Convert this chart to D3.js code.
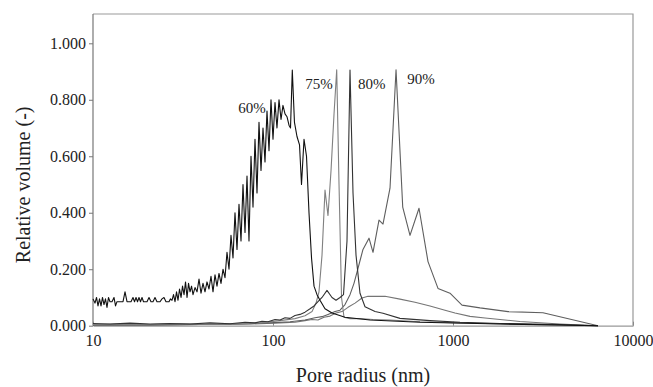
<!DOCTYPE html>
<html>
<head>
<meta charset="utf-8">
<title>Pore size distribution</title>
<style>
  body { margin: 0; background: #fff; }
  text { font-family: "Liberation Serif", "Times New Roman", serif; fill: #222; }
</style>
</head>
<body>
<script src="https://d3js.org/d3.v7.min.js"></script>
<script>
// ---- data (pore radius in nm, relative volume) ----
var radius60 = [10.0, 10.26, 10.46, 10.66, 10.87, 11.08, 11.29, 11.51, 11.73, 11.96, 12.19, 12.43, 12.75, 13.08, 13.34, 13.59,
  14.31, 14.68, 15.06, 15.45, 16.26, 16.68, 17.01, 17.34, 17.67, 18.01, 18.36, 18.72, 19.08, 19.95, 20.47, 21.0, 21.54, 22.1,
  22.67, 23.57, 24.17, 24.8, 25.44, 26.43, 26.95, 27.47, 28.01, 28.55, 29.11, 29.67, 30.25, 30.84, 31.43, 32.04, 32.66, 33.3,
  33.94, 34.6, 35.27, 35.94, 36.88, 37.83, 38.81, 39.81, 40.84, 41.9, 42.99, 44.1, 45.24, 46.42, 47.62, 48.85, 50.12, 51.42,
  52.75, 54.12, 55.52, 56.96, 58.43, 59.95, 61.5, 63.1, 64.73, 66.41, 68.13, 69.9, 71.71, 73.56, 75.47, 77.43, 79.43, 81.49,
  83.6, 85.77, 87.99, 90.27, 92.61, 95.01, 97.47, 100.0, 102.6, 105.2, 108.0, 110.8, 113.6, 116.6, 119.6, 122.7, 125.1, 128.0,
  131.6, 135.9, 140.4, 144.0, 148.7, 153.5, 158.5, 163.7, 169.0, 175.6, 182.4, 194.5, 212.7, 251.2, 345.8, 655.7, 1824, 6390];
var volume60 = [0.095, 0.08, 0.1, 0.07, 0.095, 0.07, 0.1, 0.075, 0.095, 0.065, 0.1, 0.085, 0.085, 0.1, 0.07, 0.085,
  0.085, 0.085, 0.12, 0.085, 0.085, 0.1, 0.085, 0.1, 0.085, 0.1, 0.085, 0.1, 0.085, 0.085, 0.1, 0.085, 0.085, 0.1,
  0.085, 0.085, 0.095, 0.1, 0.085, 0.085, 0.095, 0.09, 0.11, 0.085, 0.12, 0.09, 0.13, 0.1, 0.14, 0.11, 0.155, 0.1,
  0.15, 0.12, 0.14, 0.11, 0.135, 0.12, 0.165, 0.115, 0.15, 0.12, 0.155, 0.13, 0.175, 0.12, 0.18, 0.14, 0.185, 0.15,
  0.2, 0.17, 0.26, 0.2, 0.32, 0.24, 0.4, 0.27, 0.43, 0.3, 0.5, 0.33, 0.53, 0.3, 0.6, 0.42, 0.66, 0.47,
  0.72, 0.55, 0.7, 0.58, 0.76, 0.62, 0.8, 0.66, 0.79, 0.7, 0.8, 0.73, 0.78, 0.75, 0.74, 0.71, 0.7, 0.905,
  0.72, 0.67, 0.64, 0.5, 0.66, 0.6, 0.4, 0.24, 0.14, 0.11, 0.09, 0.06, 0.045, 0.03, 0.02, 0.012, 0.006, 0];

var radius75 = [10.0, 14.13, 20.74, 30.43, 44.67, 65.57, 84.7, 109.4, 132.5, 150.6, 164.8, 173.4, 180.1, 187.2, 194.5,
  202.1, 210.1, 218.3, 225.9, 232.7, 240.3, 248.0, 267.8, 304.3, 359.4, 446.7, 655.7, 1094, 2356, 6390];
var volume75 = [0.004, 0.006, 0.004, 0.007, 0.005, 0.008, 0.01, 0.018, 0.025, 0.035, 0.05, 0.08, 0.12, 0.25, 0.48,
  0.39, 0.55, 0.75, 0.906, 0.5, 0.1, 0.03, 0.025, 0.025, 0.022, 0.02, 0.014, 0.01, 0.005, 0];

var radius80 = [10.0, 12.43, 16.05, 20.74, 26.78, 34.58, 44.67, 57.69, 69.9, 79.43, 86.88, 93.8, 102.6, 109.4, 116.6,
  124.3, 132.5, 141.3, 150.6, 160.6, 169.0, 177.8, 187.2, 199.5, 212.7, 223.9, 235.7, 246.4, 257.7, 267.8, 278.3,
  289.2, 304.3, 324.5, 368.8, 408.4, 507.6, 745, 1094, 1824, 3930, 6390];
var volume80 = [0.008, 0.006, 0.009, 0.006, 0.008, 0.006, 0.01, 0.007, 0.012, 0.01, 0.016, 0.014, 0.022, 0.02, 0.028,
  0.026, 0.036, 0.04, 0.048, 0.06, 0.07, 0.085, 0.1, 0.125, 0.1, 0.09, 0.1, 0.11, 0.3, 0.905, 0.47,
  0.25, 0.115, 0.067, 0.05, 0.044, 0.026, 0.018, 0.012, 0.008, 0.004, 0];

var radius90 = [10.0, 20.74, 39.3, 65.57, 96.2, 124.3, 150.6, 171.1, 187.2, 202.1, 221.1, 235.7, 251.2, 267.8, 281.8,
  292.9, 304.3, 316.2, 341.5, 359.4, 388.0, 408.4, 446.7, 482.5, 525.6, 576.9, 647.4, 726.3, 825.4, 962, 1122, 1413,
  2021, 3162, 6390];
var volume90 = [0.002, 0.003, 0.004, 0.006, 0.01, 0.014, 0.02, 0.028, 0.032, 0.04, 0.05, 0.055, 0.075, 0.11, 0.15,
  0.19, 0.23, 0.27, 0.31, 0.26, 0.374, 0.36, 0.487, 0.906, 0.42, 0.32, 0.416, 0.227, 0.132, 0.115, 0.073, 0.063,
  0.05, 0.046, 0];

// broad, unlabelled curve
var radiusBroad = [10.0, 20.74, 39.3, 74.5, 109.4, 132.5, 150.6, 164.8, 177.8, 192.0, 207.4, 223.9, 241.8, 261.0, 285.5,
  312.2, 337.1, 419.0, 507.6, 615, 745, 902.6, 1026, 1243, 1506, 2356, 3930, 6390];
var volumeBroad = [0.003, 0.002, 0.004, 0.006, 0.01, 0.012, 0.018, 0.022, 0.02, 0.03, 0.034, 0.045, 0.05, 0.065, 0.08,
  0.098, 0.104, 0.104, 0.094, 0.083, 0.07, 0.055, 0.045, 0.033, 0.027, 0.015, 0.006, 0];

var xTicks = [10, 100, 1000, 10000];
var yTicks = [0, 0.2, 0.4, 0.6, 0.8, 1.0];
var seriesLabels = ["60%", "75%", "80%", "90%", ""];

// ---- layout ----
const width = 653, height = 387;
const plotLeft = 93, plotRight = 633, plotTop = 14, plotBottom = 325.7;

const svg = d3.select("body").append("svg")
  .attr("width", width)
  .attr("height", height);

const x = d3.scaleLog().domain([10, 10000]).range([plotLeft, plotRight]);
const y = d3.scaleLinear().domain([0, 1.1]).range([plotBottom, plotBottom - 1.1 * 282.4]);

// frame (top + right)
svg.append("path")
  .attr("d", "M" + plotLeft + "," + plotTop + "H" + plotRight + "V" + plotBottom)
  .attr("fill", "none")
  .attr("stroke", "#999")
  .attr("stroke-width", 1.2);

// y axis
const yAxis = svg.append("g")
  .attr("transform", "translate(" + plotLeft + ",0)")
  .call(d3.axisLeft(y).tickValues(yTicks).tickFormat(d3.format(".3f")).tickSize(4).tickPadding(3));
yAxis.select(".domain").attr("stroke", "#777").attr("stroke-width", 1.2)
  .attr("d", "M0," + plotBottom + "V" + plotTop);
yAxis.selectAll(".tick line").attr("stroke", "#777");
yAxis.selectAll("text").style("font-size", "16px").attr("fill", "#222");

// x axis (ticks inside)
const xAxis = svg.append("g")
  .attr("transform", "translate(0," + plotBottom + ")")
  .call(d3.axisBottom(x).tickValues(xTicks).tickFormat(d3.format("d")).tickSizeInner(-4).tickSizeOuter(0).tickPadding(9));
xAxis.select(".domain").attr("stroke", "#999").attr("stroke-width", 1.2);
xAxis.selectAll(".tick line").attr("stroke", "#888");
xAxis.selectAll("text").style("font-size", "16px").attr("fill", "#222");

// axis titles
svg.append("text")
  .attr("x", (plotLeft + plotRight) / 2)
  .attr("y", 382)
  .attr("text-anchor", "middle")
  .style("font-size", "20px")
  .text("Pore radius (nm)");

svg.append("text")
  .attr("transform", "translate(30," + ((plotTop + plotBottom) / 2 + 15) + ") rotate(-90)")
  .attr("text-anchor", "middle")
  .style("font-size", "20px")
  .text("Relative volume (-)");

// curves
const series = [
  { r: radiusBroad, v: volumeBroad, color: "#757575" },
  { r: radius90, v: volume90, color: "#5e5e5e" },
  { r: radius75, v: volume75, color: "#808080" },
  { r: radius80, v: volume80, color: "#333" },
  { r: radius60, v: volume60, color: "#111" }
];

const line = d3.line()
  .x(function(d) { return x(d[0]); })
  .y(function(d) { return y(d[1]); });

svg.append("g").selectAll("path")
  .data(series)
  .enter()
  .append("path")
  .attr("fill", "none")
  .attr("stroke", function(d) { return d.color; })
  .attr("stroke-width", 1.1)
  .attr("stroke-linejoin", "round")
  .attr("d", function(d) { return line(d3.zip(d.r, d.v)); });

// peak labels
const labelAnchors = [[76.4, 0.753], [180.1, 0.838], [353.4, 0.838], [664, 0.856]];
svg.append("g").selectAll("text")
  .data(labelAnchors)
  .enter()
  .append("text")
  .attr("x", function(d) { return x(d[0]); })
  .attr("y", function(d) { return y(d[1]); })
  .attr("text-anchor", "middle")
  .style("font-size", "15px")
  .text(function(d, i) { return seriesLabels[i]; });
</script>
</body>
</html>
